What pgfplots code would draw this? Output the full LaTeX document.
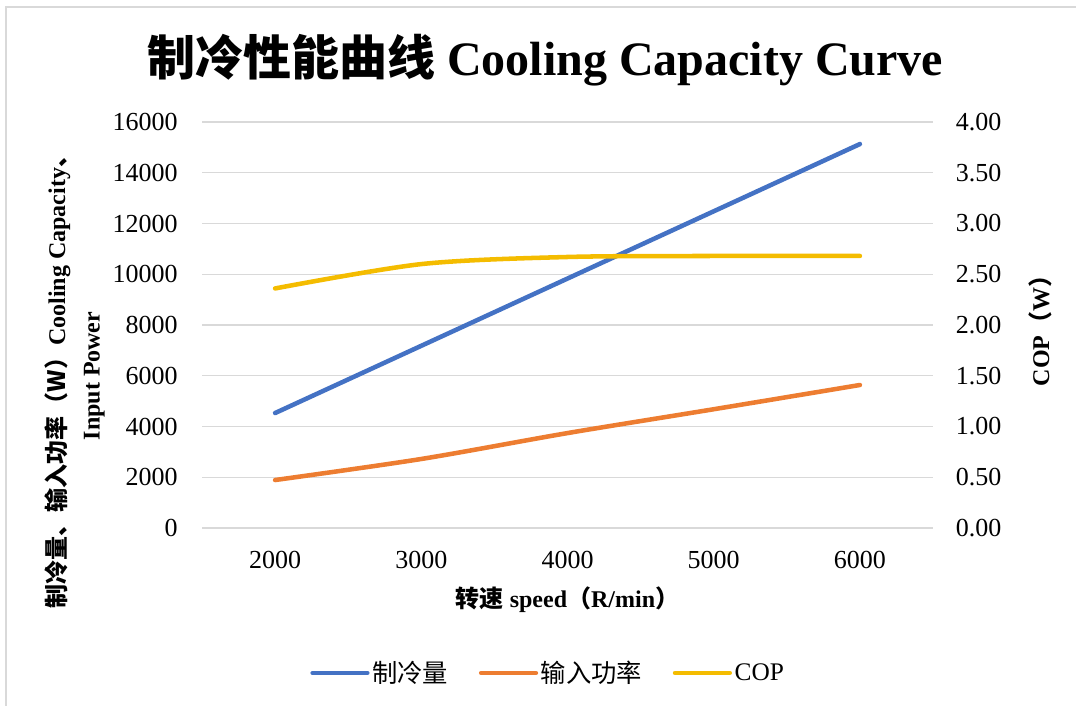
\documentclass[border=0pt]{standalone}
\usepackage{fontspec}
\usepackage{pgfplots}
\pgfplotsset{compat=1.18}
\setmainfont{Liberation Serif}
\newfontfamily\cjk{Noto Sans CJK SC}

\definecolor{cblue}{HTML}{4472C4}
\definecolor{corange}{HTML}{ED7D31}
\definecolor{cyellow}{HTML}{F4BC00}
\definecolor{cgrid}{HTML}{D9D9D9}

\pgfplotsset{
  base/.style={
    scale only axis,
    width=548.25pt, height=304.5pt,
    at={(151.5pt,133.5pt)}, anchor=south west,
    xmin=1500, xmax=6500,
    xtick={2000,3000,4000,5000,6000},
    axis line style={draw=none},
    major tick style={draw=none},
    tick label style={font=\fontsize{19.5}{22}\selectfont},
    scaled ticks=false,
    /pgf/number format/assume math mode=true,
    /pgf/number format/1000 sep={},
  },
  ser/.style={line width=3.4pt, line cap=round, smooth, no markers},
}

\begin{document}
\begin{tikzpicture}
\useasboundingbox (0,0) rectangle (807pt,529.5pt);
\draw[cgrid, line width=1.1pt] (4.5pt,0) -- (4.5pt,524.25pt) -- (807pt,524.25pt);

\begin{axis}[base,
  ymin=0, ymax=16000,
  ytick={0,2000,...,16000},
  ymajorgrids, grid style={cgrid, line width=0.8pt},
  yticklabel style={anchor=east, inner sep=0pt, xshift=-18pt},
  xticklabel style={anchor=north, inner sep=0pt, yshift=-17pt},
  legend style={at={(0.474,-0.357)}, anchor=center, draw=none, fill=none,
    legend columns=3, font=\fontsize{19}{22}\selectfont,
    /tikz/every even column/.append style={column sep=21pt},
    inner sep=0pt},
  legend cell align=left,
  legend image code/.code={\draw[#1, line cap=round] (0pt,0pt) -- (41pt,0pt);},
]
\addplot[ser, cblue] coordinates {
  (2000,4530) (3000,7180) (4000,9830) (5000,12480) (6000,15130)
};
\addplot[ser, corange] coordinates {
  (2000,1890) (3000,2720) (4000,3740) (5000,4680) (6000,5635)
};
\addlegendimage{line width=3.4pt, cyellow}
\legend{{\cjk 制冷量}, {\cjk 输入功率}, COP}
\end{axis}

\begin{axis}[base,
  axis x line=none,
  ymin=0, ymax=4,
  ytick={0,0.5,...,4},
  axis y line*=right,
  yticklabel style={anchor=west, inner sep=0pt, xshift=17pt,
    /pgf/number format/.cd, fixed, fixed zerofill, precision=2},
]
\addplot[ser, cyellow] coordinates {
  (2000,2.36) (3000,2.60) (4000,2.67) (5000,2.68) (6000,2.68)
};
\end{axis}

\node[font=\fontsize{36}{40}\selectfont\bfseries] at (408.75pt,484.5pt)
  {{\cjk 制冷性能曲线} Cooling Capacity Curve};
\node[font=\fontsize{18}{22}\selectfont\bfseries] at (425.6pt,79.5pt)
  {{\cjk 转速} speed{\cjk （}R/min{\cjk ）}};
\node[font=\fontsize{18}{26}\selectfont\bfseries, rotate=90, align=center]
  at (55.9pt,247.5pt)
  {{\cjk 制冷量、输入功率（W）}Cooling Capacity{\cjk 、}\\Input Power};
\node[font=\fontsize{18}{22}\selectfont\bfseries, rotate=90] at (780pt,285.75pt)
  {COP{\cjk （}W{\cjk ）}};
\end{tikzpicture}
\end{document}
